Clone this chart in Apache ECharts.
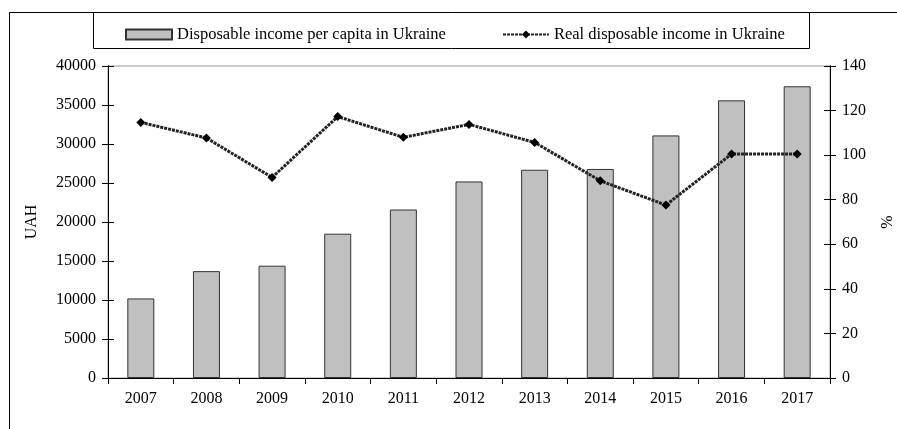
<!DOCTYPE html>
<html>
<head>
<meta charset="utf-8">
<script src="https://cdn.jsdelivr.net/npm/echarts@6/dist/echarts.min.js"></script>
<style>
  html, body { margin: 0; padding: 0; background: #fff; }
  #chart { width: 897px; height: 429px; }
</style>
</head>
<body>
<div id="chart"></div>
<script>
// data
const years = ['2007', '2008', '2009', '2010', '2011', '2012', '2013', '2014', '2015', '2016', '2017'];
const incomePerCapita = [10200, 13700, 14400, 18500, 21600, 25200, 26700, 26800, 31100, 35600, 37400];
const realIncome = [114.7, 107.7, 90.0, 117.3, 108.0, 113.8, 105.7, 88.5, 77.6, 100.5, 100.5];
const leftTicks = { min: 0, max: 40000, interval: 5000 };
const rightTicks = { min: 0, max: 140, interval: 20 };

const font = 'Liberation Serif';
const chart = echarts.init(document.getElementById('chart'));

const axisBase = {
    type: 'value',
    splitLine: { show: false },
    axisLine: { show: true, lineStyle: { color: '#000', width: 1 } },
    axisTick: { show: true, length: 6, lineStyle: { color: '#000' } },
};
const labelStyle = { margin: 12, fontSize: 16, fontFamily: font, color: '#000', formatter: v => String(v) };

chart.setOption({
    animation: false,
    backgroundColor: '#fff',
    textStyle: { fontFamily: font, color: '#000' },
    graphic: [
        {
            type: 'rect', z: 0,
            shape: { x: 9.5, y: 12.5, width: 900, height: 430 },
            style: { fill: 'none', stroke: '#000', lineWidth: 1 }
        },
        {
            type: 'rect', z: 1,
            shape: { x: 93.5, y: 12.5, width: 716, height: 36 },
            style: { fill: '#fff', stroke: '#000', lineWidth: 1 }
        }
    ],
    legend: {
        z: 10,
        left: 120,
        top: 21,
        itemGap: 56,
        itemWidth: 46,
        itemHeight: 10,
        textStyle: { fontFamily: font, fontSize: 16.5, color: '#000' },
        data: [
            { name: 'Disposable income per capita in Ukraine', icon: 'rect' },
            { name: 'Real disposable income in Ukraine' }
        ]
    },
    grid: {
        left: 108, right: 67, top: 66, bottom: 51,
        outerBoundsMode: 'none',
        containLabel: false,
        show: true, borderColor: '#999', borderWidth: 1, backgroundColor: 'transparent'
    },
    xAxis: {
        type: 'category',
        data: years,
        boundaryGap: true,
        axisLine: { lineStyle: { color: '#000' } },
        axisTick: { show: true, interval: 0, length: 6, lineStyle: { color: '#000' } },
        axisLabel: { interval: 0, margin: 13, fontSize: 16, fontFamily: font, color: '#000' }
    },
    yAxis: [
        Object.assign({}, axisBase, {
            position: 'left',
            min: leftTicks.min, max: leftTicks.max, interval: leftTicks.interval,
            name: 'UAH', nameLocation: 'middle', nameGap: 68, nameRotate: 90,
            nameTextStyle: { fontFamily: font, fontSize: 16, color: '#000' },
            axisLabel: labelStyle
        }),
        Object.assign({}, axisBase, {
            position: 'right',
            min: rightTicks.min, max: rightTicks.max, interval: rightTicks.interval,
            name: '%', nameLocation: 'middle', nameGap: 50, nameRotate: 90,
            nameTextStyle: { fontFamily: font, fontSize: 16, color: '#000' },
            axisLabel: labelStyle
        }),
        // inner halves of the crossing ticks
        Object.assign({}, axisBase, {
            position: 'left',
            min: leftTicks.min, max: leftTicks.max, interval: leftTicks.interval,
            axisTick: { show: true, inside: true, length: 6, lineStyle: { color: '#000' } },
            axisLabel: { show: false }
        }),
        Object.assign({}, axisBase, {
            position: 'right',
            min: rightTicks.min, max: rightTicks.max, interval: rightTicks.interval,
            axisTick: { show: true, inside: true, length: 6, lineStyle: { color: '#000' } },
            axisLabel: { show: false }
        })
    ],
    series: [
        {
            name: 'Disposable income per capita in Ukraine',
            type: 'bar',
            yAxisIndex: 0,
            barWidth: 27,
            itemStyle: { color: '#c0c0c0', borderColor: '#333', borderWidth: 1 },
            data: incomePerCapita
        },
        {
            name: 'Real disposable income in Ukraine',
            type: 'line',
            yAxisIndex: 1,
            z: 5,
            symbol: 'diamond',
            symbolSize: 9,
            itemStyle: { color: '#000' },
            lineStyle: { color: '#222', width: 3, type: [3, 1] },
            data: realIncome
        }
    ]
});
</script>
</body>
</html>
